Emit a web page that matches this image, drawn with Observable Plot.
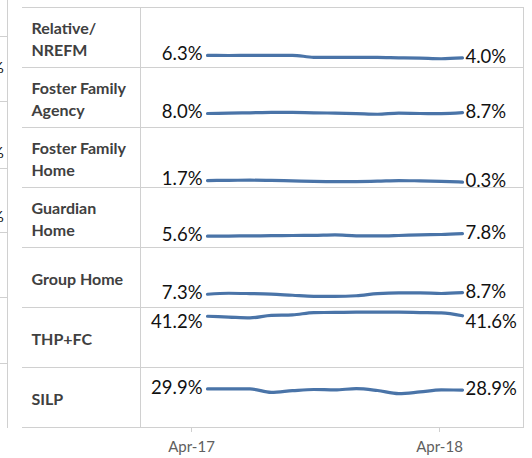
<!DOCTYPE html>
<html>
<head>
<meta charset="utf-8">
<script src="https://cdn.jsdelivr.net/npm/d3@7"></script>
<script src="https://cdn.jsdelivr.net/npm/@observablehq/plot@0.6"></script>
<style>
  html, body { margin: 0; padding: 0; background: #fff; }
  #wrap { position: relative; width: 532px; height: 458px; overflow: hidden; font-family: Lato, "Open Sans", sans-serif; }
  #wrap svg { position: absolute; left: 0; top: 0; }
  .stubV { position: absolute; left: 7px; top: 0; width: 1px; height: 428px; background: #d0d0d0; }
  .stubH { position: absolute; left: 0; width: 8px; height: 1px; background: #d0d0d0; }
  .frag { position: absolute; left: -9px; font-size: 16px; color: #111; line-height: 16px; }
</style>
</head>
<body>
<div id="wrap"></div>
<script>
// ---- data ----
const categories = ["Relative/NREFM", "Foster Family Agency", "Foster Family Home", "Guardian Home", "Group Home", "THP+FC", "SILP"];
const categoryLabels = ["Relative/\nNREFM", "Foster Family\nAgency", "Foster Family\nHome", "Guardian\nHome", "Group Home", "THP+FC", "SILP"];
const relative = [6.3, 6.2, 6.3, 6.4, 6.4, 4.6, 4.5, 4.6, 4.5, 4.1, 3.8, 3.3, 4.0];
const fosterFamilyAgency = [8.0, 8.3, 8.6, 9.0, 8.9, 8.6, 8.3, 7.9, 7.3, 8.3, 8.0, 7.9, 8.7];
const fosterFamilyHome = [1.7, 1.9, 2.0, 1.8, 1.4, 1.0, 0.8, 0.8, 1.1, 1.7, 1.4, 1.0, 0.3];
const guardianHome = [5.6, 5.7, 5.9, 6.0, 6.2, 6.3, 6.7, 5.9, 5.8, 6.2, 6.8, 7.1, 7.8];
const groupHome = [7.3, 8.2, 7.9, 7.4, 6.4, 5.5, 5.5, 6.0, 7.8, 8.5, 8.5, 8.0, 8.7];
const thpFc = [41.2, 40.5, 39.8, 42.0, 42.4, 44.5, 44.6, 44.8, 44.8, 44.8, 44.5, 44.2, 41.6];
const silp = [29.9, 29.9, 29.9, 26.8, 28.3, 29.4, 29.0, 30.2, 28.5, 25.7, 27.2, 29.0, 28.9];
const tickLabels = ["Apr-17", "Apr-18"];

// ---- table built from the arrays ----
const seriesList = [relative, fosterFamilyAgency, fosterFamilyHome, guardianHome, groupHome, thpFc, silp];
const rows = categories.flatMap((cat, k) => seriesList[k].map((v, i) => ({cat, i, v})));
const firsts = categories.map((cat, k) => ({cat, i: 0, v: seriesList[k][0]}));
const lasts = categories.map((cat, k) => {
  const s = seriesList[k];
  return {cat, i: s.length - 1, v: s[s.length - 1]};
});

// ---- layout (pixel geometry of the panel) ----
const W = 532, H = 458;
const left = 22, right = 523, firstPx = 207, stepPx = 21.25;
const toIdx = px => (px - firstPx) / stepPx;
const xDomain = [toIdx(left), toIdx(right)];
const dividerX = toIdx(140);
const tickPos = [toIdx(191), toIdx(439)];
const labelTop = 35.3; // data labels are kept inside the row
const gridColor = "#d0d0d0";
const lineColor = "#4a74a8";
const fmt = v => v.toFixed(1) + "%";

const chart = Plot.plot({
  width: W,
  height: H,
  marginTop: 5,
  marginBottom: 30,
  marginLeft: left,
  marginRight: W - right,
  style: {fontFamily: "Lato, 'Open Sans', sans-serif", background: "transparent"},
  x: {domain: xDomain},
  y: {domain: [-4.5, 49], axis: null},
  fy: {domain: categories, padding: 0, axis: null},
  marks: [
    Plot.frame({anchor: "top", stroke: gridColor}),
    Plot.frame({anchor: "bottom", stroke: gridColor}),
    Plot.frame({anchor: "right", stroke: gridColor}),
    Plot.ruleX([dividerX], {stroke: gridColor}),
    Plot.line(rows, {x: "i", y: "v", fy: "cat", stroke: lineColor, strokeWidth: 3.2, curve: "monotone-x", strokeLinecap: "round", strokeLinejoin: "round"}),
    Plot.text(firsts, {x: "i", y: d => Math.min(d.v, labelTop), fy: "cat", text: d => fmt(d.v), textAnchor: "end", dx: -5, dy: -1, fontSize: 18.5, fill: "#111"}),
    Plot.text(lasts, {x: "i", y: d => Math.min(d.v, labelTop), fy: "cat", text: d => fmt(d.v), textAnchor: "start", dx: 3, dy: -1, fontSize: 18.5, fill: "#111"}),
    Plot.text(categories, {fy: d => d, text: (d, i) => categoryLabels[i], frameAnchor: "left", textAnchor: "start", dx: 9, fontSize: 16, fontWeight: "bold", fill: "#404040", lineHeight: 1.38}),
    Plot.axisX({ticks: tickPos, tickFormat: d => tickLabels[tickPos.indexOf(d)], tickSize: 5, tickPadding: 9, stroke: gridColor, fill: "#606060", fontSize: 15, label: null})
  ]
});

const wrap = document.getElementById("wrap");
wrap.appendChild(chart);

// cropped edge of the neighbouring panel
const extras = [
  '<div class="stubV"></div>',
  ...[36, 101, 168, 232, 297, 363].map(y => `<div class="stubH" style="top:${y}px"></div>`),
  ...[59, 144, 208].map(y => `<div class="frag" style="top:${y}px">%</div>`)
];
wrap.insertAdjacentHTML("beforeend", extras.join(""));
</script>
</body>
</html>
